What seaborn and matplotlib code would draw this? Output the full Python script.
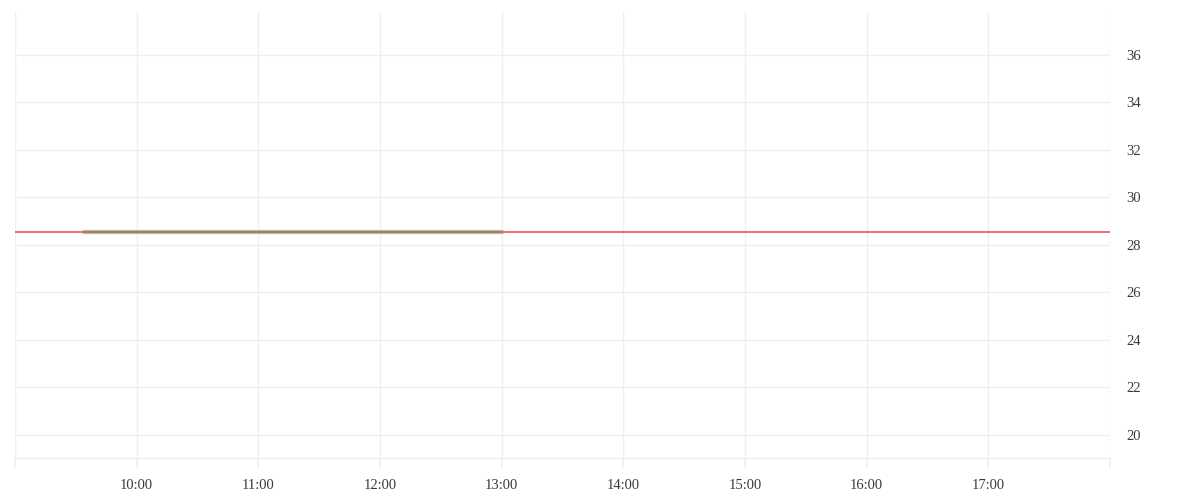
import matplotlib
matplotlib.use("Agg")
import matplotlib.pyplot as plt
import numpy as np
import pandas as pd
import seaborn as sns

# intraday series (flat from the open until 13:00)
times = ["09:34", "10:00", "10:30", "11:00", "11:30", "12:00", "12:30", "13:00"]
prices = [28.55, 28.55, 28.55, 28.55, 28.55, 28.55, 28.55, 28.55]
last_price = 28.55

day = "2024-01-02"
hour_ticks = ["09:00", "10:00", "11:00", "12:00", "13:00", "14:00",
              "15:00", "16:00", "17:00", "18:00"]
hour_labels = ["", "10:00", "11:00", "12:00", "13:00", "14:00",
               "15:00", "16:00", "17:00", ""]
y_ticks = [20, 22, 24, 26, 28, 30, 32, 34, 36]
y_range = (19.03, 37.81)

df = pd.DataFrame({
    "time": pd.to_datetime([f"{day} {t}" for t in times]),
    "price": prices,
})

sns.set_theme(style="white")
plt.rcParams["font.family"] = ["Liberation Serif", "DejaVu Serif"]

grid_col = "#efefef"
text_col = "#3a3a3a"

fig = plt.figure(figsize=(12, 5), dpi=100)
ax = fig.add_axes([0.0125, 0.084, 0.9125, 0.892])

sns.lineplot(data=df, x="time", y="price", ax=ax, color="#82d49c",
             linewidth=3, zorder=3)
ax.axhline(last_price, color="#f4505c", linewidth=1.2, zorder=4)

tick_pos = pd.to_datetime([f"{day} {t}" for t in hour_ticks])
ax.set_xticks(tick_pos)
ax.set_xticklabels(hour_labels)
ax.set_xlim(tick_pos[0], tick_pos[-1])
ax.set_ylim(*y_range)
ax.set_yticks(y_ticks)

ax.yaxis.tick_right()
ax.set_xlabel("")
ax.set_ylabel("")
ax.grid(True, color=grid_col, linewidth=1)
ax.tick_params(axis="x", length=7, color=grid_col, labelsize=10.5,
               labelcolor=text_col, pad=8, bottom=True)
ax.tick_params(axis="y", length=0, labelsize=10.5, labelcolor=text_col, pad=12)

for side in ["top", "left", "right"]:
    ax.spines[side].set_visible(False)
ax.spines["bottom"].set_color(grid_col)
ax.spines["bottom"].set_linewidth(1)

fig.savefig("out.png", dpi=100)
